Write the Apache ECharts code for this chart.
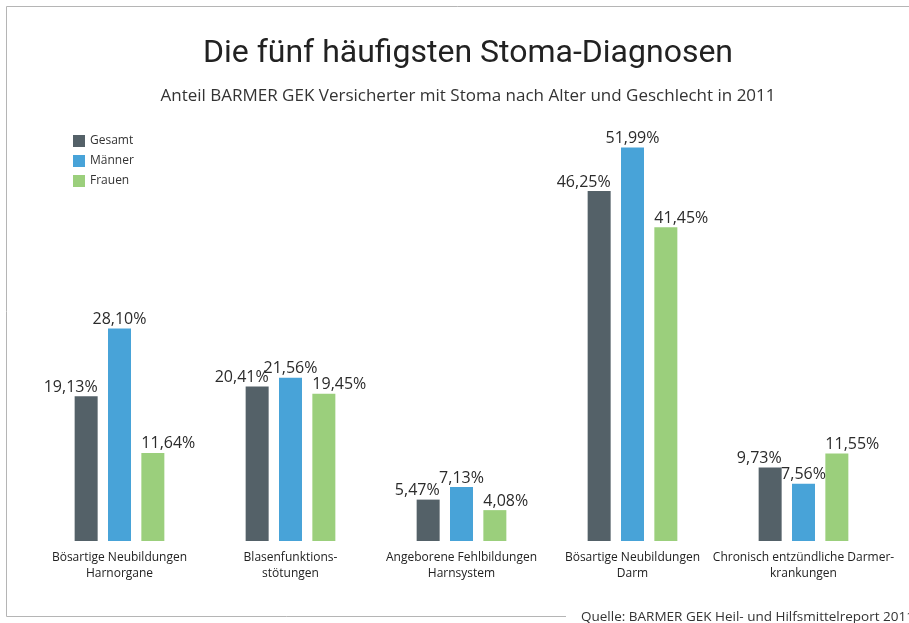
<!DOCTYPE html>
<html>
<head>
<meta charset="utf-8">
<script src="https://cdn.jsdelivr.net/npm/echarts@6/dist/echarts.min.js"></script>
<style>
    html, body { margin: 0; padding: 0; background: #fff; }
    #ecStoma { width: 909px; height: 623px; }
</style>
</head>
<body>
<div id="ecStoma"></div>
<script>
var categories = [
    "Bösartige Neubildungen\nHarnorgane",
    "Blasenfunktions-\nstötungen",
    "Angeborene Fehlbildungen\nHarnsystem",
    "Bösartige Neubildungen\nDarm",
    "Chronisch entzündliche Darmer-\nkrankungen"
];
var gesamt = [19.13, 20.41, 5.47, 46.25, 9.73];
var maenner = [28.10, 21.56, 7.13, 51.99, 7.56];
var frauen = [11.64, 19.45, 4.08, 41.45, 11.55];

function pct(p) {
    return p.value.toFixed(2).replace('.', ',') + '%';
}

// labels: Gesamt flush with bar right edge, Frauen flush with bar left edge
function labelStyle(align, dx) {
    return {
        show: true,
        position: 'top',
        distance: 1,
        align: align,
        offset: [dx, 0],
        formatter: pct,
        fontSize: 16,
        color: '#2b2b2b',
        fontFamily: 'Open Sans'
    };
}

getechart("ecStoma", {
    title: [
        {
            text: "Die fünf häufigsten Stoma-Diagnosen",
            left: 463,
            top: 33,
            textAlign: 'center',
            textStyle: {
                fontSize: 32,
                fontWeight: 'normal',
                color: '#222',
                fontFamily: 'Roboto'
            }
        },
        {
            text: "Anteil BARMER GEK Versicherter mit Stoma nach Alter und Geschlecht in 2011",
            left: 463,
            top: 83,
            textAlign: 'center',
            textStyle: {
                fontSize: 17,
                fontWeight: 'normal',
                color: '#333',
                fontFamily: 'Open Sans'
            }
        },
        {
            text: "Quelle: BARMER GEK Heil- und Hilfsmittelreport 2011",
            left: 576,
            top: 605,
            textStyle: {
                fontSize: 13.5,
                fontWeight: 'normal',
                color: '#333',
                fontFamily: 'Open Sans'
            }
        }
    ],
    legend: {
        orient: 'vertical',
        left: 68,
        top: 130,
        itemWidth: 12,
        itemHeight: 12,
        itemGap: 8,
        icon: 'rect',
        textStyle: { fontSize: 12, color: '#333', fontFamily: 'Open Sans' },
        data: ['Gesamt', 'Männer', 'Frauen']
    },
    grid: {
        left: 34,
        width: 855,
        top: 87,
        height: 454
    },
    xAxis: {
        type: 'category',
        data: categories,
        axisLine: { show: false },
        axisTick: { show: false },
        axisLabel: {
            interval: 0,
            margin: 9,
            fontSize: 12,
            lineHeight: 16,
            color: '#222',
            fontFamily: 'Open Sans'
        }
    },
    yAxis: {
        type: 'value',
        min: 0,
        max: 60,
        show: false,
        splitLine: { show: false }
    },
    graphic: [
        {
            type: 'polyline',
            shape: { points: [[909, 6.5], [6.5, 6.5], [6.5, 616.5], [566, 616.5]] },
            style: { stroke: '#b5b5b5', lineWidth: 1, fill: null }
        }
    ],
    series: [
        {
            name: 'Gesamt',
            type: 'bar',
            barWidth: 23,
            barGap: '45%',
            itemStyle: { color: '#546168' },
            label: labelStyle('right', 11.5),
            data: gesamt
        },
        {
            name: 'Männer',
            type: 'bar',
            barWidth: 23,
            barGap: '45%',
            itemStyle: { color: '#48a3d8' },
            label: labelStyle('center', 0),
            data: maenner
        },
        {
            name: 'Frauen',
            type: 'bar',
            barWidth: 23,
            barGap: '45%',
            itemStyle: { color: '#9bcf7c' },
            label: labelStyle('left', -11.5),
            data: frauen
        }
    ]
});

function getechart(idName, idOption) {
    var id = echarts.init(document.getElementById(idName));
    id.setOption(idOption);
    window.addEventListener('resize', function () {
        id.resize();
    });
}
</script>
</body>
</html>
